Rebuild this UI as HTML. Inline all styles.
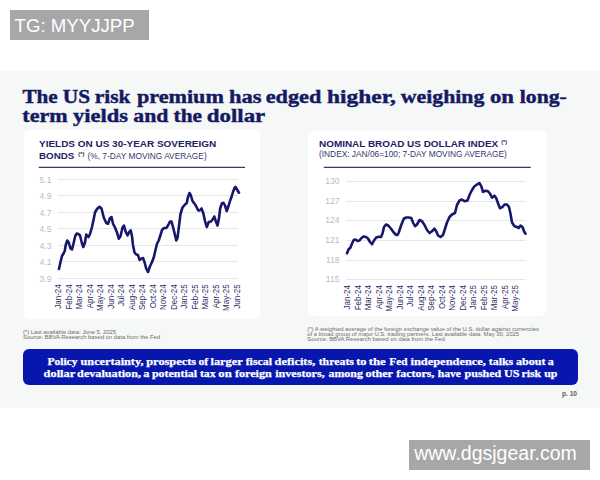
<!DOCTYPE html>
<html><head><meta charset="utf-8"><style>
*{margin:0;padding:0;box-sizing:border-box}
html,body{width:600px;height:480px;background:#fff;overflow:hidden;position:relative;font-family:"Liberation Sans",sans-serif}
.r{position:absolute}
svg{position:absolute;left:0;top:0}
</style></head><body>
<div class="r" style="left:0;top:71px;width:600px;height:337px;background:#f6f7f7"></div>
<div class="r" style="left:10px;top:10px;width:139px;height:30px;background:#a7a7a7"></div>
<div class="r" style="left:409px;top:440px;width:181px;height:30px;background:#a7a7a7"></div>
<div class="r" style="left:23.5px;top:130px;width:236.5px;height:189px;background:#fff;border-radius:5px"></div>
<div class="r" style="left:308px;top:130.6px;width:238px;height:185.5px;background:#fff;border-radius:5px"></div>
<div class="r" style="left:22.8px;top:349.2px;width:555px;height:36.2px;background:#0717ae;border-radius:6px"></div>
<svg width="600" height="480" viewBox="0 0 600 480">
<line x1="58" y1="179.5" x2="238" y2="179.5" stroke="#e6e7e8" stroke-width="1"/>
<line x1="58" y1="195.5" x2="238" y2="195.5" stroke="#e6e7e8" stroke-width="1"/>
<line x1="58" y1="212.5" x2="238" y2="212.5" stroke="#e6e7e8" stroke-width="1"/>
<line x1="58" y1="228.5" x2="238" y2="228.5" stroke="#e6e7e8" stroke-width="1"/>
<line x1="58" y1="245.5" x2="238" y2="245.5" stroke="#e6e7e8" stroke-width="1"/>
<line x1="58" y1="261.5" x2="238" y2="261.5" stroke="#e6e7e8" stroke-width="1"/>
<line x1="58" y1="278.5" x2="238" y2="278.5" stroke="#e6e7e8" stroke-width="1"/>
<text x="51.5" y="182.90" font-family="Liberation Sans" font-weight="normal" font-size="8.6" fill="#bcbcbc" text-anchor="end" >5.1</text>
<text x="51.5" y="198.90" font-family="Liberation Sans" font-weight="normal" font-size="8.6" fill="#bcbcbc" text-anchor="end" >4.9</text>
<text x="51.5" y="215.90" font-family="Liberation Sans" font-weight="normal" font-size="8.6" fill="#bcbcbc" text-anchor="end" >4.7</text>
<text x="51.5" y="231.90" font-family="Liberation Sans" font-weight="normal" font-size="8.6" fill="#bcbcbc" text-anchor="end" >4.5</text>
<text x="51.5" y="248.90" font-family="Liberation Sans" font-weight="normal" font-size="8.6" fill="#bcbcbc" text-anchor="end" >4.3</text>
<text x="51.5" y="264.90" font-family="Liberation Sans" font-weight="normal" font-size="8.6" fill="#bcbcbc" text-anchor="end" >4.1</text>
<text x="51.5" y="281.90" font-family="Liberation Sans" font-weight="normal" font-size="8.6" fill="#bcbcbc" text-anchor="end" >3.9</text>
<line x1="346.25" y1="181.5" x2="525.5" y2="181.5" stroke="#e6e7e8" stroke-width="1"/>
<line x1="346.25" y1="201.5" x2="525.5" y2="201.5" stroke="#e6e7e8" stroke-width="1"/>
<line x1="346.25" y1="220.5" x2="525.5" y2="220.5" stroke="#e6e7e8" stroke-width="1"/>
<line x1="346.25" y1="240.5" x2="525.5" y2="240.5" stroke="#e6e7e8" stroke-width="1"/>
<line x1="346.25" y1="260.5" x2="525.5" y2="260.5" stroke="#e6e7e8" stroke-width="1"/>
<line x1="346.25" y1="279.5" x2="525.5" y2="279.5" stroke="#e6e7e8" stroke-width="1"/>
<text x="339.5" y="184.00" font-family="Liberation Sans" font-weight="normal" font-size="8.6" fill="#bcbcbc" text-anchor="end" >130</text>
<text x="339.5" y="204.00" font-family="Liberation Sans" font-weight="normal" font-size="8.6" fill="#bcbcbc" text-anchor="end" >127</text>
<text x="339.5" y="223.00" font-family="Liberation Sans" font-weight="normal" font-size="8.6" fill="#bcbcbc" text-anchor="end" >124</text>
<text x="339.5" y="243.00" font-family="Liberation Sans" font-weight="normal" font-size="8.6" fill="#bcbcbc" text-anchor="end" >121</text>
<text x="339.5" y="263.00" font-family="Liberation Sans" font-weight="normal" font-size="8.6" fill="#bcbcbc" text-anchor="end" >118</text>
<text x="339.5" y="282.00" font-family="Liberation Sans" font-weight="normal" font-size="8.6" fill="#bcbcbc" text-anchor="end" >115</text>
<text transform="translate(61.30,284.3) rotate(-90) scale(1,1.15)" text-anchor="end" font-family="Liberation Sans" font-size="8.0" fill="#2c2c66">Jan-24</text>
<text transform="translate(71.80,284.3) rotate(-90) scale(1,1.15)" text-anchor="end" font-family="Liberation Sans" font-size="8.0" fill="#2c2c66">Feb-24</text>
<text transform="translate(82.30,284.3) rotate(-90) scale(1,1.15)" text-anchor="end" font-family="Liberation Sans" font-size="8.0" fill="#2c2c66">Mar-24</text>
<text transform="translate(92.80,284.3) rotate(-90) scale(1,1.15)" text-anchor="end" font-family="Liberation Sans" font-size="8.0" fill="#2c2c66">Apr-24</text>
<text transform="translate(103.30,284.3) rotate(-90) scale(1,1.15)" text-anchor="end" font-family="Liberation Sans" font-size="8.0" fill="#2c2c66">May-24</text>
<text transform="translate(113.80,284.3) rotate(-90) scale(1,1.15)" text-anchor="end" font-family="Liberation Sans" font-size="8.0" fill="#2c2c66">Jun-24</text>
<text transform="translate(124.30,284.3) rotate(-90) scale(1,1.15)" text-anchor="end" font-family="Liberation Sans" font-size="8.0" fill="#2c2c66">Jul-24</text>
<text transform="translate(134.80,284.3) rotate(-90) scale(1,1.15)" text-anchor="end" font-family="Liberation Sans" font-size="8.0" fill="#2c2c66">Aug-24</text>
<text transform="translate(145.30,284.3) rotate(-90) scale(1,1.15)" text-anchor="end" font-family="Liberation Sans" font-size="8.0" fill="#2c2c66">Sep-24</text>
<text transform="translate(155.80,284.3) rotate(-90) scale(1,1.15)" text-anchor="end" font-family="Liberation Sans" font-size="8.0" fill="#2c2c66">Oct-24</text>
<text transform="translate(166.30,284.3) rotate(-90) scale(1,1.15)" text-anchor="end" font-family="Liberation Sans" font-size="8.0" fill="#2c2c66">Nov-24</text>
<text transform="translate(176.80,284.3) rotate(-90) scale(1,1.15)" text-anchor="end" font-family="Liberation Sans" font-size="8.0" fill="#2c2c66">Dec-24</text>
<text transform="translate(187.30,284.3) rotate(-90) scale(1,1.15)" text-anchor="end" font-family="Liberation Sans" font-size="8.0" fill="#2c2c66">Jan-25</text>
<text transform="translate(197.80,284.3) rotate(-90) scale(1,1.15)" text-anchor="end" font-family="Liberation Sans" font-size="8.0" fill="#2c2c66">Feb-25</text>
<text transform="translate(208.30,284.3) rotate(-90) scale(1,1.15)" text-anchor="end" font-family="Liberation Sans" font-size="8.0" fill="#2c2c66">Mar-25</text>
<text transform="translate(218.80,284.3) rotate(-90) scale(1,1.15)" text-anchor="end" font-family="Liberation Sans" font-size="8.0" fill="#2c2c66">Apr-25</text>
<text transform="translate(229.30,284.3) rotate(-90) scale(1,1.15)" text-anchor="end" font-family="Liberation Sans" font-size="8.0" fill="#2c2c66">May-25</text>
<text transform="translate(239.80,284.3) rotate(-90) scale(1,1.15)" text-anchor="end" font-family="Liberation Sans" font-size="8.0" fill="#2c2c66">Jun-25</text>
<text transform="translate(350.00,285) rotate(-90) scale(1,1.15)" text-anchor="end" font-family="Liberation Sans" font-size="8.0" fill="#2c2c66">Jan-24</text>
<text transform="translate(360.50,285) rotate(-90) scale(1,1.15)" text-anchor="end" font-family="Liberation Sans" font-size="8.0" fill="#2c2c66">Feb-24</text>
<text transform="translate(371.00,285) rotate(-90) scale(1,1.15)" text-anchor="end" font-family="Liberation Sans" font-size="8.0" fill="#2c2c66">Mar-24</text>
<text transform="translate(381.50,285) rotate(-90) scale(1,1.15)" text-anchor="end" font-family="Liberation Sans" font-size="8.0" fill="#2c2c66">Apr-24</text>
<text transform="translate(392.00,285) rotate(-90) scale(1,1.15)" text-anchor="end" font-family="Liberation Sans" font-size="8.0" fill="#2c2c66">May-24</text>
<text transform="translate(402.50,285) rotate(-90) scale(1,1.15)" text-anchor="end" font-family="Liberation Sans" font-size="8.0" fill="#2c2c66">Jun-24</text>
<text transform="translate(413.00,285) rotate(-90) scale(1,1.15)" text-anchor="end" font-family="Liberation Sans" font-size="8.0" fill="#2c2c66">Jul-24</text>
<text transform="translate(423.50,285) rotate(-90) scale(1,1.15)" text-anchor="end" font-family="Liberation Sans" font-size="8.0" fill="#2c2c66">Aug-24</text>
<text transform="translate(434.00,285) rotate(-90) scale(1,1.15)" text-anchor="end" font-family="Liberation Sans" font-size="8.0" fill="#2c2c66">Sep-24</text>
<text transform="translate(444.50,285) rotate(-90) scale(1,1.15)" text-anchor="end" font-family="Liberation Sans" font-size="8.0" fill="#2c2c66">Oct-24</text>
<text transform="translate(455.00,285) rotate(-90) scale(1,1.15)" text-anchor="end" font-family="Liberation Sans" font-size="8.0" fill="#2c2c66">Nov-24</text>
<text transform="translate(465.50,285) rotate(-90) scale(1,1.15)" text-anchor="end" font-family="Liberation Sans" font-size="8.0" fill="#2c2c66">Dec-24</text>
<text transform="translate(476.00,285) rotate(-90) scale(1,1.15)" text-anchor="end" font-family="Liberation Sans" font-size="8.0" fill="#2c2c66">Jan-25</text>
<text transform="translate(486.50,285) rotate(-90) scale(1,1.15)" text-anchor="end" font-family="Liberation Sans" font-size="8.0" fill="#2c2c66">Feb-25</text>
<text transform="translate(497.00,285) rotate(-90) scale(1,1.15)" text-anchor="end" font-family="Liberation Sans" font-size="8.0" fill="#2c2c66">Mar-25</text>
<text transform="translate(507.50,285) rotate(-90) scale(1,1.15)" text-anchor="end" font-family="Liberation Sans" font-size="8.0" fill="#2c2c66">Apr-25</text>
<text transform="translate(518.00,285) rotate(-90) scale(1,1.15)" text-anchor="end" font-family="Liberation Sans" font-size="8.0" fill="#2c2c66">May-25</text>
<path d="M59.00,269.00 L60.50,262.00 L62.00,256.00 L63.50,253.50 L64.75,251.00 L65.75,245.00 L67.25,240.50 L68.75,242.50 L70.50,248.50 L72.00,249.50 L73.75,242.50 L75.25,236.00 L76.75,233.50 L78.50,234.00 L80.00,235.50 L81.75,242.50 L83.25,247.00 L85.00,242.50 L86.25,234.50 L88.50,237.00 L90.00,234.00 L92.00,227.00 L93.50,220.00 L95.00,212.50 L97.00,209.00 L99.50,206.75 L101.50,208.50 L103.75,217.50 L106.25,223.00 L108.00,223.75 L110.00,218.00 L111.50,217.00 L113.00,223.75 L115.00,227.50 L117.00,232.50 L118.75,238.75 L120.50,236.25 L122.50,227.50 L124.00,225.50 L125.50,231.25 L127.50,235.50 L129.25,232.00 L130.75,230.50 L132.00,236.25 L133.00,245.00 L134.50,252.50 L136.25,254.50 L138.00,255.00 L139.50,260.00 L141.25,258.75 L143.00,258.00 L144.50,262.00 L146.25,268.75 L148.00,272.00 L150.00,266.25 L152.00,262.00 L153.75,257.50 L155.50,250.00 L157.00,243.75 L158.75,240.50 L160.50,235.00 L162.00,230.00 L164.00,228.00 L166.25,228.00 L168.00,225.50 L170.00,221.50 L171.50,221.50 L173.00,227.00 L174.50,233.00 L176.25,240.50 L177.50,238.00 L179.00,226.00 L180.50,214.00 L182.50,207.50 L185.00,204.50 L186.75,203.00 L188.00,197.00 L189.50,193.00 L190.75,195.00 L192.50,201.00 L195.50,205.00 L198.25,210.50 L199.75,210.50 L201.50,208.50 L203.25,213.00 L205.00,221.00 L206.75,227.00 L208.75,222.00 L211.00,221.50 L213.00,219.00 L214.25,216.50 L215.75,221.00 L217.50,225.50 L219.00,218.00 L220.25,208.00 L222.00,203.25 L223.50,202.75 L225.00,205.50 L226.75,211.00 L228.50,206.00 L230.00,201.00 L231.50,197.00 L233.00,192.00 L234.50,188.00 L235.50,187.00 L237.00,189.50 L239.00,192.75" fill="none" stroke="#16176b" stroke-width="2.6" stroke-linejoin="round" stroke-linecap="round"/>
<path d="M347.00,253.25 L348.50,249.50 L350.50,247.50 L352.00,243.50 L353.75,240.00 L355.50,239.50 L357.50,241.00 L359.50,240.50 L361.50,238.00 L363.50,236.50 L366.00,237.00 L368.00,238.50 L370.00,242.00 L372.00,244.25 L374.00,240.50 L376.25,237.50 L378.75,236.75 L381.00,237.00 L382.50,233.50 L384.00,227.00 L386.00,224.50 L388.50,225.75 L391.25,229.00 L393.75,232.50 L396.25,235.00 L397.50,235.00 L398.75,232.50 L401.25,225.00 L403.75,218.75 L406.25,217.50 L408.75,217.50 L411.25,218.00 L413.00,222.50 L415.00,226.25 L417.00,224.50 L419.50,220.00 L422.00,221.25 L424.50,225.00 L427.00,230.00 L429.50,233.00 L432.00,231.25 L434.50,228.75 L436.25,231.25 L438.00,235.50 L440.50,237.00 L443.00,235.00 L445.00,228.75 L447.00,222.50 L449.50,217.00 L452.00,214.50 L455.00,213.00 L457.00,205.00 L459.50,200.50 L462.00,199.50 L464.50,201.25 L467.50,200.50 L469.50,195.00 L472.00,190.00 L474.50,186.25 L477.00,184.50 L479.50,183.20 L481.25,186.20 L483.00,191.95 L485.50,190.70 L488.00,191.20 L490.00,193.70 L492.00,197.70 L494.50,195.70 L496.25,198.20 L498.00,203.20 L500.00,208.20 L502.50,207.00 L504.50,204.50 L507.00,204.50 L509.00,207.00 L510.50,213.75 L512.00,222.50 L514.50,226.25 L517.00,227.00 L518.75,228.00 L520.50,225.50 L522.50,227.00 L524.00,231.25 L525.50,233.75" fill="none" stroke="#16176b" stroke-width="2.6" stroke-linejoin="round" stroke-linecap="round"/>
<line x1="38.75" y1="167.4" x2="245" y2="167.4" stroke="#38386a" stroke-width="1.3"/>
<line x1="323.8" y1="167.3" x2="530.8" y2="167.3" stroke="#38386a" stroke-width="1.3"/>
<text x="14.63" y="31.9" font-family="Liberation Sans" font-weight="normal" font-size="18.3" fill="#fff" text-anchor="start" textLength="120.06" lengthAdjust="spacingAndGlyphs" >TG: MYYJJPP</text>
<text x="414.2" y="460" font-family="Liberation Sans" font-weight="normal" font-size="19.4" fill="#fff" text-anchor="start" textLength="162.7" lengthAdjust="spacingAndGlyphs" >www.dgsjgear.com</text>
<text x="22.4" y="102.8" font-family="Liberation Serif" font-weight="bold" font-size="19.8" fill="#141a62" text-anchor="start" textLength="35.35" lengthAdjust="spacingAndGlyphs" stroke="#141a62" stroke-width="0.45">The</text>
<text x="62.79" y="102.8" font-family="Liberation Serif" font-weight="bold" font-size="19.8" fill="#141a62" text-anchor="start" textLength="27.32" lengthAdjust="spacingAndGlyphs" stroke="#141a62" stroke-width="0.45">US</text>
<text x="94.68" y="102.8" font-family="Liberation Serif" font-weight="bold" font-size="19.8" fill="#141a62" text-anchor="start" textLength="35.74" lengthAdjust="spacingAndGlyphs" stroke="#141a62" stroke-width="0.45">risk</text>
<text x="136.9" y="102.8" font-family="Liberation Serif" font-weight="bold" font-size="19.8" fill="#141a62" text-anchor="start" textLength="86.98" lengthAdjust="spacingAndGlyphs" stroke="#141a62" stroke-width="0.45">premium</text>
<text x="229.06" y="102.8" font-family="Liberation Serif" font-weight="bold" font-size="19.8" fill="#141a62" text-anchor="start" textLength="32.54" lengthAdjust="spacingAndGlyphs" stroke="#141a62" stroke-width="0.45">has</text>
<text x="265.69" y="102.8" font-family="Liberation Serif" font-weight="bold" font-size="19.8" fill="#141a62" text-anchor="start" textLength="55.56" lengthAdjust="spacingAndGlyphs" stroke="#141a62" stroke-width="0.45">edged</text>
<text x="327.14" y="102.8" font-family="Liberation Serif" font-weight="bold" font-size="19.8" fill="#141a62" text-anchor="start" textLength="68.6" lengthAdjust="spacingAndGlyphs" stroke="#141a62" stroke-width="0.45">higher,</text>
<text x="400.82" y="102.8" font-family="Liberation Serif" font-weight="bold" font-size="19.8" fill="#141a62" text-anchor="start" textLength="83.56" lengthAdjust="spacingAndGlyphs" stroke="#141a62" stroke-width="0.45">weighing</text>
<text x="489.91" y="102.8" font-family="Liberation Serif" font-weight="bold" font-size="19.8" fill="#141a62" text-anchor="start" textLength="23.99" lengthAdjust="spacingAndGlyphs" stroke="#141a62" stroke-width="0.45">on</text>
<text x="519.79" y="102.8" font-family="Liberation Serif" font-weight="bold" font-size="19.8" fill="#141a62" text-anchor="start" textLength="47.05" lengthAdjust="spacingAndGlyphs" stroke="#141a62" stroke-width="0.45">long-</text>
<text x="22.39" y="121.5" font-family="Liberation Serif" font-weight="bold" font-size="19.8" fill="#141a62" text-anchor="start" textLength="45.3" lengthAdjust="spacingAndGlyphs" stroke="#141a62" stroke-width="0.45">term</text>
<text x="72.99" y="121.5" font-family="Liberation Serif" font-weight="bold" font-size="19.8" fill="#141a62" text-anchor="start" textLength="55.04" lengthAdjust="spacingAndGlyphs" stroke="#141a62" stroke-width="0.45">yields</text>
<text x="133.27" y="121.5" font-family="Liberation Serif" font-weight="bold" font-size="19.8" fill="#141a62" text-anchor="start" textLength="35.08" lengthAdjust="spacingAndGlyphs" stroke="#141a62" stroke-width="0.45">and</text>
<text x="173.6" y="121.5" font-family="Liberation Serif" font-weight="bold" font-size="19.8" fill="#141a62" text-anchor="start" textLength="28.37" lengthAdjust="spacingAndGlyphs" stroke="#141a62" stroke-width="0.45">the</text>
<text x="206.81" y="121.5" font-family="Liberation Serif" font-weight="bold" font-size="19.8" fill="#141a62" text-anchor="start" textLength="58.45" lengthAdjust="spacingAndGlyphs" stroke="#141a62" stroke-width="0.45">dollar</text>
<text x="39" y="146.7" font-family="Liberation Sans" font-weight="bold" font-size="9.8" fill="#1e2266" text-anchor="start" textLength="177.2" lengthAdjust="spacingAndGlyphs" >YIELDS ON US 30-YEAR SOVEREIGN</text>
<text x="39" y="158.6" font-family="Liberation Sans" font-weight="bold" font-size="9.8" fill="#1e2266" text-anchor="start" textLength="35.3" lengthAdjust="spacingAndGlyphs" >BONDS</text>
<text x="78.3" y="155.9" font-family="Liberation Sans" font-weight="bold" font-size="5.6" fill="#1e2266" text-anchor="start" textLength="6" lengthAdjust="spacingAndGlyphs" >(*)</text>
<text x="87.5" y="158.6" font-family="Liberation Sans" font-weight="normal" font-size="8.3" fill="#35376c" text-anchor="start" textLength="119.2" lengthAdjust="spacingAndGlyphs" >(%, 7-DAY MOVING AVERAGE)</text>
<text x="319" y="146.8" font-family="Liberation Sans" font-weight="bold" font-size="9.8" fill="#1e2266" text-anchor="start" textLength="179.2" lengthAdjust="spacingAndGlyphs" >NOMINAL BROAD US DOLLAR INDEX</text>
<text x="501.2" y="144" font-family="Liberation Sans" font-weight="bold" font-size="5.6" fill="#1e2266" text-anchor="start" textLength="6" lengthAdjust="spacingAndGlyphs" >(*)</text>
<text x="319" y="157.2" font-family="Liberation Sans" font-weight="normal" font-size="8.3" fill="#35376c" text-anchor="start" textLength="187.8" lengthAdjust="spacingAndGlyphs" >(INDEX: JAN/06=100; 7-DAY MOVING AVERAGE)</text>
<text x="23" y="333.7" font-family="Liberation Sans" font-weight="normal" font-size="6.2" fill="#6c6c6c" text-anchor="start" textLength="93" lengthAdjust="spacingAndGlyphs" >(*) Last available data: June 5, 2025</text>
<text x="23" y="339.3" font-family="Liberation Sans" font-weight="normal" font-size="6.2" fill="#6c6c6c" text-anchor="start" textLength="137" lengthAdjust="spacingAndGlyphs" >Source: BBVA Research based on data from the Fed</text>
<text x="307.3" y="330.5" font-family="Liberation Sans" font-weight="normal" font-size="6.1" fill="#6c6c6c" text-anchor="start" textLength="231.7" lengthAdjust="spacingAndGlyphs" >(*) A weighted average of the foreign exchange value of the U.S. dollar against currencies</text>
<text x="307.3" y="335.9" font-family="Liberation Sans" font-weight="normal" font-size="6.1" fill="#6c6c6c" text-anchor="start" textLength="211.7" lengthAdjust="spacingAndGlyphs" >of a broad group of major U.S. trading partners. Last available data: May 30, 2025</text>
<text x="307.3" y="341.4" font-family="Liberation Sans" font-weight="normal" font-size="6.1" fill="#6c6c6c" text-anchor="start" textLength="137.5" lengthAdjust="spacingAndGlyphs" >Source: BBVA Research based on data from the Fed</text>
<text x="47.45" y="365" font-family="Liberation Serif" font-weight="bold" font-size="11" fill="#fff" text-anchor="start" textLength="30.05" lengthAdjust="spacingAndGlyphs" stroke="#fff" stroke-width="0.25">Policy</text>
<text x="80.54" y="365" font-family="Liberation Serif" font-weight="bold" font-size="11" fill="#fff" text-anchor="start" textLength="62.92" lengthAdjust="spacingAndGlyphs" stroke="#fff" stroke-width="0.25">uncertainty,</text>
<text x="146.25" y="365" font-family="Liberation Serif" font-weight="bold" font-size="11" fill="#fff" text-anchor="start" textLength="49.91" lengthAdjust="spacingAndGlyphs" stroke="#fff" stroke-width="0.25">prospects</text>
<text x="198.4" y="365" font-family="Liberation Serif" font-weight="bold" font-size="11" fill="#fff" text-anchor="start" textLength="9.84" lengthAdjust="spacingAndGlyphs" stroke="#fff" stroke-width="0.25">of</text>
<text x="210.47" y="365" font-family="Liberation Serif" font-weight="bold" font-size="11" fill="#fff" text-anchor="start" textLength="32.14" lengthAdjust="spacingAndGlyphs" stroke="#fff" stroke-width="0.25">larger</text>
<text x="245.66" y="365" font-family="Liberation Serif" font-weight="bold" font-size="11" fill="#fff" text-anchor="start" textLength="26.32" lengthAdjust="spacingAndGlyphs" stroke="#fff" stroke-width="0.25">fiscal</text>
<text x="274.63" y="365" font-family="Liberation Serif" font-weight="bold" font-size="11" fill="#fff" text-anchor="start" textLength="40.74" lengthAdjust="spacingAndGlyphs" stroke="#fff" stroke-width="0.25">deficits,</text>
<text x="318.69" y="365" font-family="Liberation Serif" font-weight="bold" font-size="11" fill="#fff" text-anchor="start" textLength="35.24" lengthAdjust="spacingAndGlyphs" stroke="#fff" stroke-width="0.25">threats</text>
<text x="356.18" y="365" font-family="Liberation Serif" font-weight="bold" font-size="11" fill="#fff" text-anchor="start" textLength="10.42" lengthAdjust="spacingAndGlyphs" stroke="#fff" stroke-width="0.25">to</text>
<text x="368.68" y="365" font-family="Liberation Serif" font-weight="bold" font-size="11" fill="#fff" text-anchor="start" textLength="17.1" lengthAdjust="spacingAndGlyphs" stroke="#fff" stroke-width="0.25">the</text>
<text x="389.35" y="365" font-family="Liberation Serif" font-weight="bold" font-size="11" fill="#fff" text-anchor="start" textLength="18.15" lengthAdjust="spacingAndGlyphs" stroke="#fff" stroke-width="0.25">Fed</text>
<text x="410.47" y="365" font-family="Liberation Serif" font-weight="bold" font-size="11" fill="#fff" text-anchor="start" textLength="75.49" lengthAdjust="spacingAndGlyphs" stroke="#fff" stroke-width="0.25">independence,</text>
<text x="488.69" y="365" font-family="Liberation Serif" font-weight="bold" font-size="11" fill="#fff" text-anchor="start" textLength="24.6" lengthAdjust="spacingAndGlyphs" stroke="#fff" stroke-width="0.25">talks</text>
<text x="516.01" y="365" font-family="Liberation Serif" font-weight="bold" font-size="11" fill="#fff" text-anchor="start" textLength="29.54" lengthAdjust="spacingAndGlyphs" stroke="#fff" stroke-width="0.25">about</text>
<text x="547.86" y="365" font-family="Liberation Serif" font-weight="bold" font-size="11" fill="#fff" text-anchor="start" textLength="5.95" lengthAdjust="spacingAndGlyphs" stroke="#fff" stroke-width="0.25">a</text>
<text x="43.63" y="376.5" font-family="Liberation Serif" font-weight="bold" font-size="11" fill="#fff" text-anchor="start" textLength="31.51" lengthAdjust="spacingAndGlyphs" stroke="#fff" stroke-width="0.25">dollar</text>
<text x="77.13" y="376.5" font-family="Liberation Serif" font-weight="bold" font-size="11" fill="#fff" text-anchor="start" textLength="63.85" lengthAdjust="spacingAndGlyphs" stroke="#fff" stroke-width="0.25">devaluation,</text>
<text x="143.25" y="376.5" font-family="Liberation Serif" font-weight="bold" font-size="11" fill="#fff" text-anchor="start" textLength="6.22" lengthAdjust="spacingAndGlyphs" stroke="#fff" stroke-width="0.25">a</text>
<text x="151.9" y="376.5" font-family="Liberation Serif" font-weight="bold" font-size="11" fill="#fff" text-anchor="start" textLength="45.09" lengthAdjust="spacingAndGlyphs" stroke="#fff" stroke-width="0.25">potential</text>
<text x="199.94" y="376.5" font-family="Liberation Serif" font-weight="bold" font-size="11" fill="#fff" text-anchor="start" textLength="15.67" lengthAdjust="spacingAndGlyphs" stroke="#fff" stroke-width="0.25">tax</text>
<text x="218.31" y="376.5" font-family="Liberation Serif" font-weight="bold" font-size="11" fill="#fff" text-anchor="start" textLength="13.48" lengthAdjust="spacingAndGlyphs" stroke="#fff" stroke-width="0.25">on</text>
<text x="234.96" y="376.5" font-family="Liberation Serif" font-weight="bold" font-size="11" fill="#fff" text-anchor="start" textLength="36.72" lengthAdjust="spacingAndGlyphs" stroke="#fff" stroke-width="0.25">foreign</text>
<text x="275.18" y="376.5" font-family="Liberation Serif" font-weight="bold" font-size="11" fill="#fff" text-anchor="start" textLength="49.56" lengthAdjust="spacingAndGlyphs" stroke="#fff" stroke-width="0.25">investors,</text>
<text x="328.51" y="376.5" font-family="Liberation Serif" font-weight="bold" font-size="11" fill="#fff" text-anchor="start" textLength="34.38" lengthAdjust="spacingAndGlyphs" stroke="#fff" stroke-width="0.25">among</text>
<text x="365.44" y="376.5" font-family="Liberation Serif" font-weight="bold" font-size="11" fill="#fff" text-anchor="start" textLength="27.55" lengthAdjust="spacingAndGlyphs" stroke="#fff" stroke-width="0.25">other</text>
<text x="396.31" y="376.5" font-family="Liberation Serif" font-weight="bold" font-size="11" fill="#fff" text-anchor="start" textLength="38.22" lengthAdjust="spacingAndGlyphs" stroke="#fff" stroke-width="0.25">factors,</text>
<text x="437.73" y="376.5" font-family="Liberation Serif" font-weight="bold" font-size="11" fill="#fff" text-anchor="start" textLength="23.24" lengthAdjust="spacingAndGlyphs" stroke="#fff" stroke-width="0.25">have</text>
<text x="464.6" y="376.5" font-family="Liberation Serif" font-weight="bold" font-size="11" fill="#fff" text-anchor="start" textLength="36.68" lengthAdjust="spacingAndGlyphs" stroke="#fff" stroke-width="0.25">pushed</text>
<text x="504.02" y="376.5" font-family="Liberation Serif" font-weight="bold" font-size="11" fill="#fff" text-anchor="start" textLength="15.59" lengthAdjust="spacingAndGlyphs" stroke="#fff" stroke-width="0.25">US</text>
<text x="521.52" y="376.5" font-family="Liberation Serif" font-weight="bold" font-size="11" fill="#fff" text-anchor="start" textLength="19.68" lengthAdjust="spacingAndGlyphs" stroke="#fff" stroke-width="0.25">risk</text>
<text x="544.24" y="376.5" font-family="Liberation Serif" font-weight="bold" font-size="11" fill="#fff" text-anchor="start" textLength="13.14" lengthAdjust="spacingAndGlyphs" stroke="#fff" stroke-width="0.25">up</text>
<text x="562" y="395.75" font-family="Liberation Sans" font-weight="bold" font-size="7.2" fill="#5c5c5c" text-anchor="start" textLength="15" lengthAdjust="spacingAndGlyphs" >p. 10</text>
</svg>
</body></html>
